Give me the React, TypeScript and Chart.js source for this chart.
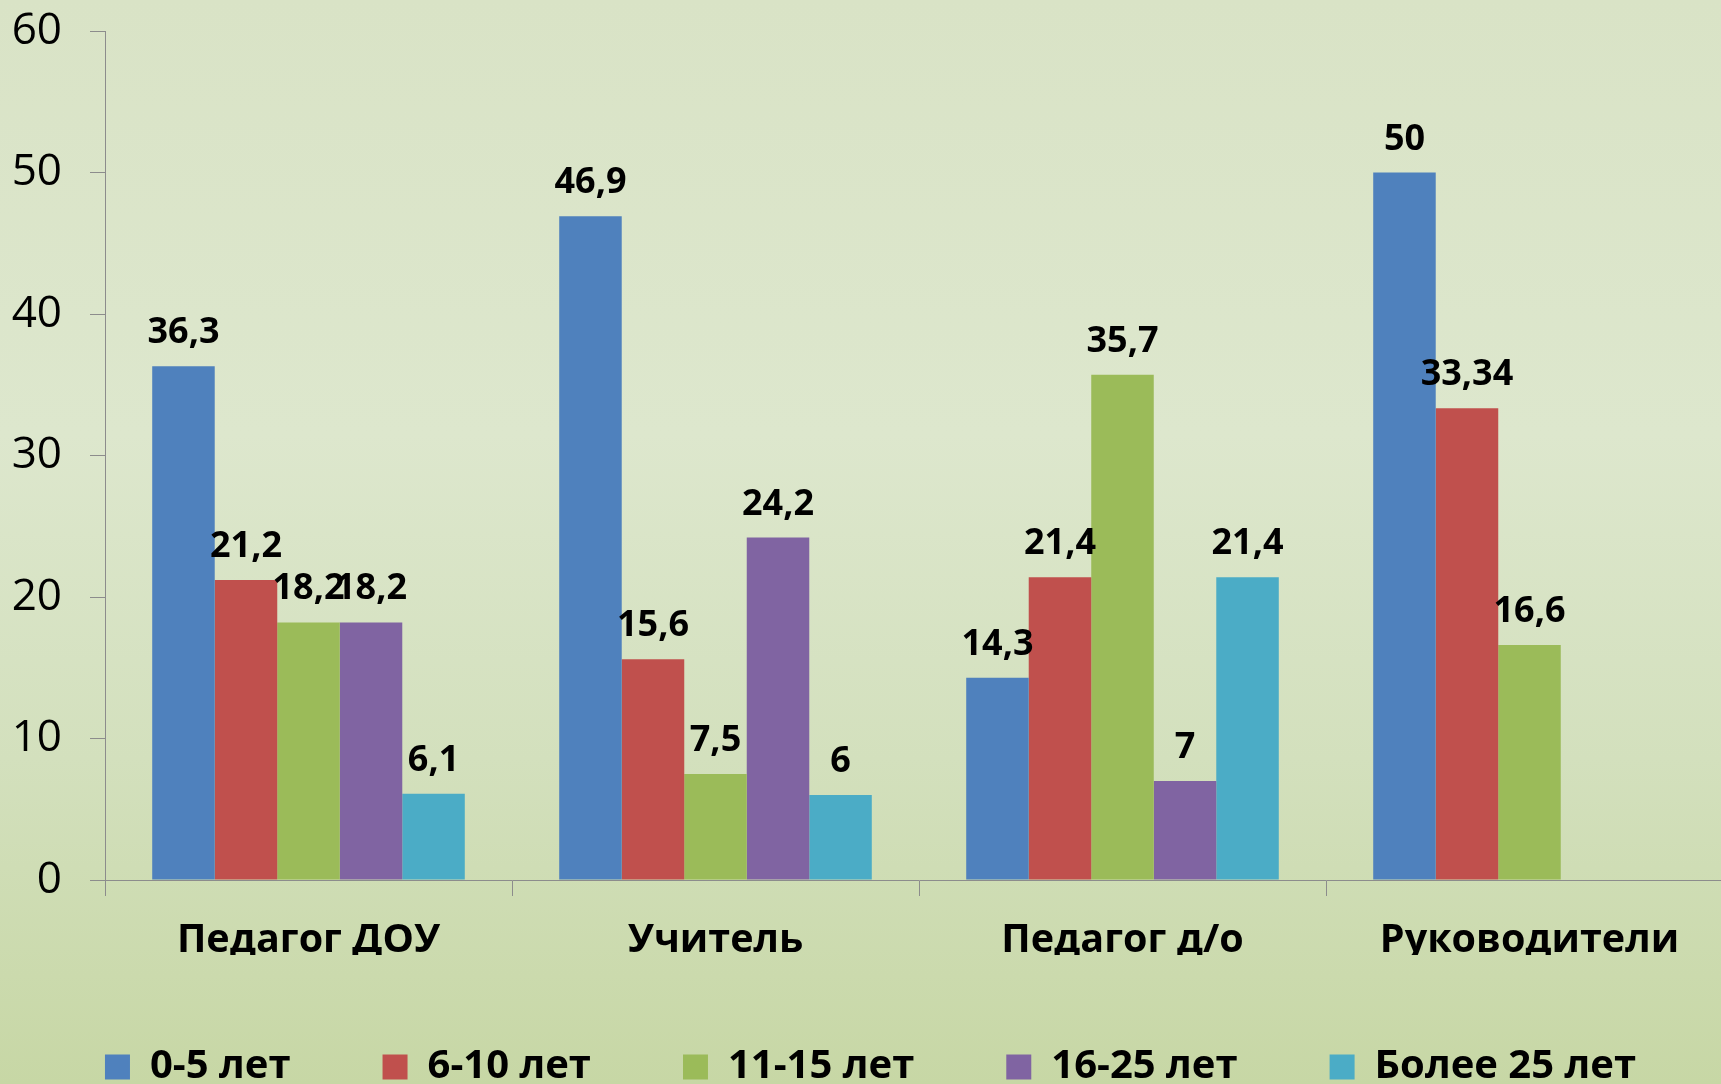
import React, { useEffect, useRef } from "react";
import { Chart, registerables } from "chart.js";

Chart.register(...registerables);

const categories = ["Педагог ДОУ", "Учитель", "Педагог д/о", "Руководители"];
const seriesNames = ["0-5 лет", "6-10 лет", "11-15 лет", "16-25 лет", "Более 25 лет"];
const years0to5 = [36.3, 46.9, 14.3, 50];
const years6to10 = [21.2, 15.6, 21.4, 33.34];
const years11to15 = [18.2, 7.5, 35.7, 16.6];
const years16to25 = [18.2, 24.2, 7, null];
const yearsOver25 = [6.1, 6, 21.4, null];
const seriesColors = ["#4F81BD", "#C0504D", "#9BBB59", "#8064A2", "#4BACC6"];
const yMin = 0;
const yMax = 60;
const yStep = 10;

const CANVAS_W = 1764;
const CANVAS_H = 1097;

const valueLabelPlugin = {
  id: "valueLabels",
  afterDatasetsDraw(chart: any) {
    const ctx = chart.ctx;
    ctx.save();
    ctx.font = 'bold 36px "Open Sans"';
    ctx.fillStyle = "#000000";
    ctx.textAlign = "center";
    ctx.textBaseline = "alphabetic";
    chart.data.datasets.forEach((ds: any, i: number) => {
      const meta = chart.getDatasetMeta(i);
      meta.data.forEach((el: any, j: number) => {
        const v = ds.data[j];
        if (v === null || v === undefined) return;
        ctx.fillText(String(v).replace(".", ","), el.x, el.y - 23);
      });
    });
    ctx.restore();
  },
};

export default function App() {
  const canvasRef = useRef<HTMLCanvasElement | null>(null);

  useEffect(() => {
    if (!canvasRef.current) return;
    const seriesData = [years0to5, years6to10, years11to15, years16to25, yearsOver25];
    const chart = new Chart(canvasRef.current, {
      type: "bar",
      data: {
        labels: categories,
        datasets: seriesNames.map((name, i) => ({
          label: name,
          data: seriesData[i],
          backgroundColor: seriesColors[i],
          borderWidth: 0,
          categoryPercentage: 0.768,
          barPercentage: 1,
        })),
      },
      options: {
        responsive: false,
        animation: false,
        devicePixelRatio: 1,
        layout: { padding: { top: 31, right: 31, left: 8, bottom: 0 } },
        plugins: {
          tooltip: { enabled: false },
          legend: {
            position: "bottom",
            labels: {
              boxWidth: 25,
              boxHeight: 25,
              padding: 92,
              color: "#000000",
              font: { family: '"Open Sans"', size: 40, weight: "bold" },
            },
          },
        },
        scales: {
          x: {
            grid: {
              drawOnChartArea: false,
              drawTicks: true,
              tickLength: 16,
              color: "#8c8c8c",
              offset: true,
            },
            border: { color: "#8c8c8c", width: 1 },
            ticks: {
              color: "#000000",
              padding: 21,
              font: { family: '"Open Sans"', size: 39.5, weight: "bold" },
            },
            afterFit: (s: any) => {
              s.height = 75;
              s.paddingLeft = 0;
              s.paddingRight = 0;
            },
          },
          y: {
            min: yMin,
            max: yMax,
            ticks: {
              stepSize: yStep,
              color: "#000000",
              padding: 28,
              font: { family: '"Open Sans"', size: 44 },
            },
            grid: {
              drawOnChartArea: false,
              drawTicks: true,
              tickLength: 15,
              color: "#8c8c8c",
            },
            border: { color: "#8c8c8c", width: 1 },
            afterFit: (s: any) => {
              s.width = 97;
              s.paddingTop = 0;
              s.paddingBottom = 0;
            },
          },
        },
      },
      plugins: [valueLabelPlugin],
    });
    return () => chart.destroy();
  }, []);

  return (
    <div
      style={{
        position: "fixed",
        left: 0,
        top: 0,
        width: 1721,
        height: 1084,
        overflow: "hidden",
        background:
          "linear-gradient(to bottom, #d9e3c6 0%, #dde7cd 40%, #d3e0bd 70%, #c7d7a5 100%)",
      }}
    >
      <canvas
        ref={canvasRef}
        width={CANVAS_W}
        height={CANVAS_H}
        style={{ display: "block", width: CANVAS_W, height: CANVAS_H }}
      />
    </div>
  );
}
